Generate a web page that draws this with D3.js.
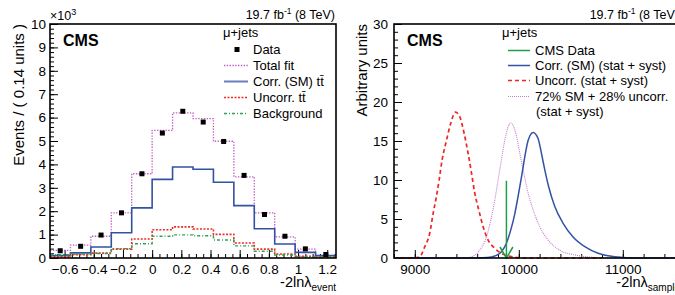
<!DOCTYPE html>
<html>
<head>
<meta charset="utf-8">
<script src="https://cdn.jsdelivr.net/npm/d3@7"></script>
<style>
  body { margin: 0; background: #fff; }
  text { font-family: "Liberation Sans", Arial, Helvetica, sans-serif; fill: #000; }
</style>
</head>
<body>
<div id="chart"></div>
<script>
// ---- left panel: -2ln(lambda_event) histogram, counts in units of 10^3 ----
const binCenters = [-0.63, -0.49, -0.35, -0.21, -0.07, 0.07, 0.21, 0.35, 0.49, 0.63, 0.77, 0.91, 1.05, 1.19];
const binWidth = 0.14;
const dataCounts = [0.31, 0.50, 0.98, 1.93, 3.60, 5.34, 6.27, 5.81, 4.98, 3.53, 1.86, 0.93, 0.39, 0.15];
const totalFit   = [0.33, 0.55, 0.93, 1.93, 3.60, 5.45, 6.20, 5.96, 4.99, 3.47, 1.93, 0.90, 0.38, 0.10];
const corrSM     = [0.10, 0.22, 0.47, 1.08, 2.14, 3.36, 3.89, 3.79, 3.24, 2.24, 1.25, 0.60, 0.24, 0.10];
const uncorrTT   = [0.05, 0.14, 0.21, 0.38, 0.81, 1.21, 1.33, 1.24, 1.01, 0.64, 0.38, 0.17, 0.07, 0.03];
const background = [0.14, 0.17, 0.19, 0.40, 0.61, 0.93, 0.99, 0.95, 0.77, 0.52, 0.29, 0.13, 0.06, 0.04];
const leftXTicks = [-0.6, -0.4, -0.2, 0, 0.2, 0.4, 0.6, 0.8, 1, 1.2];
const leftYTicks = [0, 1, 2, 3, 4, 5, 6, 7, 8, 9, 10];

// ---- right panel: -2ln(lambda_sample) pseudo-experiment distributions ----
const uncorrX = [8800, 9000, 9048, 9096, 9144, 9176, 9208, 9234, 9263, 9305, 9346, 9391, 9433, 9474, 9513, 9545, 9577, 9615, 9657, 9705, 9769, 9833, 9929, 10050, 10800];
const uncorrY = [0, 0, 0.17, 1.45, 3.2, 5.7, 7.9, 10.0, 12.6, 15.1, 17.3, 18.7, 18.1, 16.0, 13.4, 10.9, 8.3, 6.15, 4.0, 2.3, 1.24, 0.6, 0.17, 0, 0];
const mixX = [8800, 9480, 9561, 9625, 9689, 9731, 9769, 9801, 9833, 9865, 9923, 9978, 10010, 10042, 10083, 10138, 10202, 10282, 10394, 10538, 10700, 10850, 11550];
const mixY = [0, 0, 0.25, 1.0, 2.7, 4.9, 7.4, 10.0, 12.6, 15.1, 17.3, 15.6, 13.4, 11.3, 8.7, 6.15, 4.0, 2.3, 1.0, 0.4, 0.1, 0, 0];
const corrX = [8800, 9600, 9700, 9769, 9833, 9881, 9923, 9962, 9993, 10026, 10058, 10090, 10138, 10186, 10218, 10250, 10288, 10346, 10426, 10522, 10635, 10763, 10923, 11150, 11550];
const corrY = [0, 0, 0.05, 0.25, 0.8, 1.9, 3.6, 5.7, 7.9, 10.4, 13.0, 15.1, 16.1, 15.3, 13.4, 11.3, 9.1, 6.6, 4.45, 2.7, 1.45, 0.6, 0.17, 0, 0];
const cmsDataValue = 9881;
const cmsDataArrowTop = 9.9;
const rightXTicks = [9000, 10000, 11000];
const rightYTicks = [0, 5, 10, 15, 20, 25, 30];

const colors = {
  total: "#c060c4",
  corr: "#3352a6",
  uncorr: "#ee2a2a",
  bkg: "#2fa24f",
  data: "#1f9e4a",
};

const width = 675;
const height = 295;
const tickFont = "13.5px";

const svg = d3.select("#chart").append("svg")
  .attr("width", width)
  .attr("height", height);

// ---------------- left panel ----------------
const xL = d3.scaleLinear().domain([-0.7, 1.26]).range([50, 336]);
const yL = d3.scaleLinear().domain([0, 10]).range([258, 24]);

// minor ticks first
svg.append("g")
  .attr("transform", `translate(0,${yL(0)})`)
  .call(d3.axisBottom(xL).tickValues(d3.range(-0.65, 1.26, 0.05)).tickSize(-4).tickFormat(""))
  .call(g => g.select(".domain").remove());
svg.append("g")
  .attr("transform", `translate(${xL.range()[0]},0)`)
  .call(d3.axisLeft(yL).tickValues(d3.range(0, 10.01, 0.2)).tickSize(-4).tickFormat(""))
  .call(g => g.select(".domain").remove());

svg.append("g")
  .attr("transform", `translate(0,${yL(0)})`)
  .call(d3.axisBottom(xL).tickValues(leftXTicks).tickSize(-8).tickPadding(6).tickFormat(d3.format("")))
  .call(g => g.select(".domain").remove())
  .call(g => g.selectAll("text").style("font-size", tickFont).attr("fill", "#000"));
svg.append("g")
  .attr("transform", `translate(${xL.range()[0]},0)`)
  .call(d3.axisLeft(yL).tickValues(leftYTicks).tickSize(-8).tickPadding(4))
  .call(g => g.select(".domain").remove())
  .call(g => g.selectAll("text").style("font-size", tickFont).attr("fill", "#000"));

function stepPoints(values) {
  const pts = [];
  values.forEach((v, i) => {
    pts.push([binCenters[i] - binWidth / 2, v]);
    pts.push([binCenters[i] + binWidth / 2, v]);
  });
  return pts;
}

const histLine = d3.line().x(d => xL(d[0])).y(d => yL(d[1]));

const histSeries = [
  { values: totalFit, color: colors.total, dash: "1.4,1.4", w: 1.3 },
  { values: corrSM, color: colors.corr, dash: null, w: 1.6 },
  { values: uncorrTT, color: colors.uncorr, dash: "2,1.5", w: 1.6 },
  { values: background, color: colors.bkg, dash: "3,2,1,2", w: 1.4 },
];

histSeries.forEach(s => {
  svg.append("path")
    .attr("d", histLine(stepPoints(s.values)))
    .attr("fill", "none")
    .attr("stroke", s.color)
    .attr("stroke-width", s.w)
    .attr("stroke-dasharray", s.dash);
});

svg.append("g")
  .selectAll("rect")
  .data(dataCounts)
  .join("rect")
  .attr("x", (d, i) => xL(binCenters[i]) - 2.5)
  .attr("y", d => yL(d) - 2.5)
  .attr("width", 5)
  .attr("height", 5)
  .attr("fill", "#000");

svg.append("rect")
  .attr("x", 50).attr("y", 24)
  .attr("width", 286).attr("height", 234)
  .attr("fill", "none").attr("stroke", "#000").attr("stroke-width", 1.6);

// labels
svg.append("text").attr("x", 63).attr("y", 46)
  .style("font-size", "16px").style("font-weight", "bold").text("CMS");

const lumiL = svg.append("text").attr("x", 335).attr("y", 19)
  .attr("text-anchor", "end").style("font-size", "12.5px");
lumiL.append("tspan").text("19.7 fb");
lumiL.append("tspan").attr("dy", -5).style("font-size", "8.5px").text("-1");
lumiL.append("tspan").attr("dy", 5).text(" (8 TeV)");

const expo = svg.append("text").attr("x", 50).attr("y", 20).style("font-size", "12.5px");
expo.append("tspan").text("\u00d710");
expo.append("tspan").attr("dy", -5).style("font-size", "9px").text("3");

svg.append("text")
  .attr("transform", "translate(24,24) rotate(-90)")
  .attr("text-anchor", "end")
  .style("font-size", "15px")
  .text("Events / ( 0.14 units )");

const xtL = svg.append("text").attr("x", 336).attr("y", 287)
  .attr("text-anchor", "end").style("font-size", "14.5px");
xtL.append("tspan").text("-2ln\u03bb");
xtL.append("tspan").attr("dy", 4).style("font-size", "10px").text("event");

// legend left
const legL = svg.append("g");
legL.append("text").attr("x", 223).attr("y", 37).style("font-size", "13px").text("\u03bc+jets");
const legLItems = [
  { label: "Data", type: "marker" },
  { label: "Total fit", color: colors.total, dash: "1.4,1.4", w: 1.3 },
  { label: "Corr. (SM) tt\u0304", color: "#6a7dc0", dash: null, w: 2 },
  { label: "Uncorr. tt\u0304", color: colors.uncorr, dash: "2,1.5", w: 1.6 },
  { label: "Background", color: colors.bkg, dash: "3,2,1,2", w: 1.4 },
];
legLItems.forEach((d, i) => {
  const yb = 54 + i * 16;
  if (d.type === "marker") {
    legL.append("rect").attr("x", 234.5).attr("y", yb - 7).attr("width", 5).attr("height", 5).attr("fill", "#000");
  } else {
    legL.append("line").attr("x1", 224).attr("x2", 248).attr("y1", yb - 4.5).attr("y2", yb - 4.5)
      .attr("stroke", d.color).attr("stroke-width", d.w).attr("stroke-dasharray", d.dash);
  }
  legL.append("text").attr("x", 253).attr("y", yb).style("font-size", "13px").text(d.label);
});

// ---------------- right panel ----------------
const xR = d3.scaleLinear().domain([8800, 11550]).range([394, 680]);
const yR = d3.scaleLinear().domain([0, 30]).range([258, 24]);

svg.append("g")
  .attr("transform", `translate(0,${yR(0)})`)
  .call(d3.axisBottom(xR).tickValues(d3.range(8800, 11551, 200)).tickSize(-4).tickFormat(""))
  .call(g => g.select(".domain").remove());
svg.append("g")
  .attr("transform", `translate(${xR.range()[0]},0)`)
  .call(d3.axisLeft(yR).tickValues(d3.range(0, 30.1, 1)).tickSize(-4).tickFormat(""))
  .call(g => g.select(".domain").remove());

svg.append("g")
  .attr("transform", `translate(0,${yR(0)})`)
  .call(d3.axisBottom(xR).tickValues(rightXTicks).tickSize(-8).tickPadding(6).tickFormat(d3.format("d")))
  .call(g => g.select(".domain").remove())
  .call(g => g.selectAll("text").style("font-size", tickFont).attr("fill", "#000"));
svg.append("g")
  .attr("transform", `translate(${xR.range()[0]},0)`)
  .call(d3.axisLeft(yR).tickValues(rightYTicks).tickSize(-8).tickPadding(6))
  .call(g => g.select(".domain").remove())
  .call(g => g.selectAll("text").style("font-size", tickFont).attr("fill", "#000"));

const curve = d3.line()
  .x(d => xR(d[0]))
  .y(d => yR(d[1]))
  .curve(d3.curveMonotoneX);

const rightSeries = [
  { xs: mixX, ys: mixY, color: "#c57ccc", dash: "1,1", w: 1.1 },
  { xs: corrX, ys: corrY, color: colors.corr, dash: null, w: 1.5 },
  { xs: uncorrX, ys: uncorrY, color: "#f02424", dash: "4,3", w: 1.7 },
];
rightSeries.forEach(s => {
  svg.append("path")
    .attr("d", curve(s.xs.map((x, i) => [x, s.ys[i]])))
    .attr("fill", "none")
    .attr("stroke", s.color)
    .attr("stroke-width", s.w)
    .attr("stroke-dasharray", s.dash);
});

// CMS data arrow
const ax = xR(cmsDataValue);
svg.append("line")
  .attr("x1", ax).attr("x2", ax)
  .attr("y1", yR(cmsDataArrowTop)).attr("y2", yR(0))
  .attr("stroke", colors.data).attr("stroke-width", 1.5);
svg.append("path")
  .attr("d", `M${ax - 6.5},${yR(0) - 11}L${ax},${yR(0)}L${ax + 6.5},${yR(0) - 11}`)
  .attr("fill", "none").attr("stroke", colors.data).attr("stroke-width", 1.5);

svg.append("rect")
  .attr("x", 394).attr("y", 24)
  .attr("width", 286).attr("height", 234)
  .attr("fill", "none").attr("stroke", "#000").attr("stroke-width", 1.6);

svg.append("text").attr("x", 407).attr("y", 46)
  .style("font-size", "16px").style("font-weight", "bold").text("CMS");

const lumiR = svg.append("text").attr("x", 679).attr("y", 19)
  .attr("text-anchor", "end").style("font-size", "12.5px");
lumiR.append("tspan").text("19.7 fb");
lumiR.append("tspan").attr("dy", -5).style("font-size", "8.5px").text("-1");
lumiR.append("tspan").attr("dy", 5).text(" (8 TeV)");

svg.append("text")
  .attr("transform", "translate(367,24) rotate(-90)")
  .attr("text-anchor", "end")
  .style("font-size", "15px")
  .text("Arbitrary units");

const xtR = svg.append("text").attr("x", 680).attr("y", 287)
  .attr("text-anchor", "end").style("font-size", "14.5px");
xtR.append("tspan").text("-2ln\u03bb");
xtR.append("tspan").attr("dy", 4).style("font-size", "10px").text("sample");

// legend right
const legR = svg.append("g");
legR.append("text").attr("x", 502).attr("y", 37).style("font-size", "13px").text("\u03bc+jets");
const legRItems = [
  { label: "CMS Data", color: colors.data, dash: null, w: 1.5, y: 55 },
  { label: "Corr. (SM) (stat + syst)", color: colors.corr, dash: null, w: 1.5, y: 70 },
  { label: "Uncorr. (stat + syst)", color: "#f02424", dash: "4,3", w: 1.7, y: 85 },
  { label: "72% SM + 28% uncorr.", color: "#c57ccc", dash: "1,1", w: 1.1, y: 101 },
];
legRItems.forEach(d => {
  legR.append("line").attr("x1", 508).attr("x2", 530).attr("y1", d.y - 4.5).attr("y2", d.y - 4.5)
    .attr("stroke", d.color).attr("stroke-width", d.w).attr("stroke-dasharray", d.dash);
  legR.append("text").attr("x", 535).attr("y", d.y).style("font-size", "13px").text(d.label);
});
legR.append("text").attr("x", 536).attr("y", 116).style("font-size", "13px").text("(stat + syst)");
</script>
</body>
</html>
